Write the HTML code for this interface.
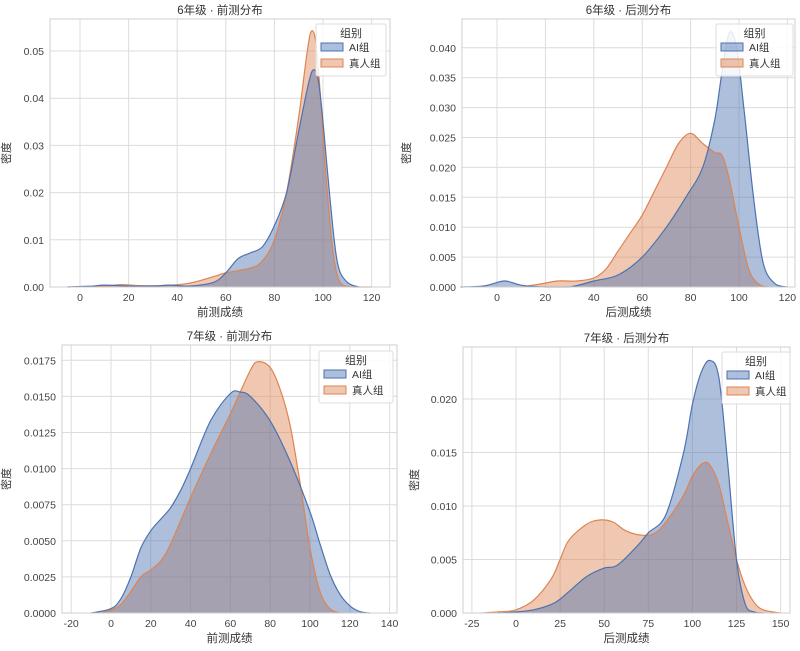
<!DOCTYPE html>
<html><head><meta charset="utf-8">
<style>
html,body{margin:0;padding:0;background:#fff;}
svg{display:block;font-family:"Liberation Sans","Noto Sans CJK SC",sans-serif;}
</style></head>
<body>
<svg id="s" width="800" height="651" xmlns="http://www.w3.org/2000/svg"></svg>
<script>
const S=document.getElementById('s');
let h='';
function sx(p,x){return p.x0+(x-p.xv0)*p.kx;}
function sy(p,y){return p.y0-(y)*p.ky;}
function path(p,pts,close){
  const P=pts.map(a=>[sx(p,a[0]),sy(p,a[1])]);
  let d='M'+P[0][0].toFixed(1)+','+P[0][1].toFixed(1);
  for(let i=0;i<P.length-1;i++){
    const p0=P[Math.max(0,i-1)],p1=P[i],p2=P[i+1],p3=P[Math.min(P.length-1,i+2)];
    const c1=[p1[0]+(p2[0]-p0[0])/6,p1[1]+(p2[1]-p0[1])/6];
    const c2=[p2[0]-(p3[0]-p1[0])/6,p2[1]-(p3[1]-p1[1])/6];
    d+=`C${c1[0].toFixed(1)},${Math.min(c1[1],p.y0).toFixed(1)} ${c2[0].toFixed(1)},${Math.min(c2[1],p.y0).toFixed(1)} ${p2[0].toFixed(1)},${p2[1].toFixed(1)}`;
  }
  if(close) d+=`L${P[P.length-1][0].toFixed(1)},${p.y0}L${P[0][0].toFixed(1)},${p.y0}Z`;
  return d;
}
function panel(p){
  h+=`<rect x="${p.L}" y="${p.T}" width="${p.R-p.L}" height="${p.y0-p.T}" fill="#fff"/>`;
  p.xt.forEach(t=>{const x=sx(p,t);h+=`<line x1="${x}" y1="${p.T}" x2="${x}" y2="${p.y0}" stroke="#dcdcdc" stroke-width="1"/><text x="${x}" y="${p.y0+14}" font-size="10.5" fill="#444" text-anchor="middle">${t}</text>`;});
  p.yt.forEach(t=>{const y=sy(p,t);h+=`<line x1="${p.L}" y1="${y}" x2="${p.R}" y2="${y}" stroke="#dcdcdc" stroke-width="1"/><text x="${p.L-6}" y="${y+4}" font-size="10.5" fill="#444" text-anchor="end">${t.toFixed(p.dec)}</text>`;});
  h+=`<path d="${path(p,p.o,true)}" fill="rgba(221,132,82,0.45)" stroke="none"/>`;
  h+=`<path d="${path(p,p.b,true)}" fill="rgba(76,114,176,0.45)" stroke="none"/>`;
  h+=`<path d="${path(p,p.o,false)}" fill="none" stroke="#dd8452" stroke-width="1.2"/>`;
  h+=`<path d="${path(p,p.b,false)}" fill="none" stroke="#4c72b0" stroke-width="1.2"/>`;
  h+=`<rect x="${p.L}" y="${p.T}" width="${p.R-p.L}" height="${p.y0-p.T}" fill="none" stroke="#cfcfcf" stroke-width="1"/>`;
  h+=`<text x="${(p.L+p.R)/2}" y="${p.T-5}" font-size="11.5" fill="#333" text-anchor="middle">${p.title}</text>`;
  h+=`<text x="${(p.L+p.R)/2}" y="${p.y0+29}" font-size="11.5" fill="#333" text-anchor="middle">${p.xl}</text>`;
  h+=`<text transform="translate(${p.ylx},${(p.T+p.y0)/2}) rotate(-90)" font-size="11" fill="#333" text-anchor="middle">密度</text>`;
  const g=p.lg;
  h+=`<rect x="${g[0]}" y="${g[1]}" width="${g[2]}" height="52" rx="2" fill="rgba(255,255,255,0.85)" stroke="#ddd"/>`;
  h+=`<text x="${g[0]+g[2]/2}" y="${g[1]+13}" font-size="11" fill="#333" text-anchor="middle">组别</text>`;
  h+=`<rect x="${g[0]+5}" y="${g[1]+19}" width="22" height="8" fill="rgba(76,114,176,0.45)" stroke="#4c72b0"/>`;
  h+=`<text x="${g[0]+33}" y="${g[1]+27}" font-size="10.5" fill="#333">AI组</text>`;
  h+=`<rect x="${g[0]+5}" y="${g[1]+35}" width="22" height="8" fill="rgba(221,132,82,0.45)" stroke="#dd8452"/>`;
  h+=`<text x="${g[0]+33}" y="${g[1]+43}" font-size="10.5" fill="#333">真人组</text>`;
}
panel({L:50,R:390,T:19,y0:287,x0:80,xv0:0,kx:2.43,ky:4720,dec:2,
 xt:[0,20,40,60,80,100,120],yt:[0,0.01,0.02,0.03,0.04,0.05],title:"6年级 · 前测分布",xl:"前测成绩",ylx:10,lg:[316,24,70],
 b:[[-5,0],[5,0.0002],[10,0.0004],[20,0.0002],[30,0.0002],[37,0.0004],[45,0.0002],[55,0.001],[60,0.003],[65,0.006],[70,0.0072],[75,0.0085],[80,0.013],[85,0.02],[90,0.033],[94,0.043],[96,0.046],[98,0.044],[100,0.035],[103,0.018],[106,0.005],[110,0.001],[115,0]],
 o:[[-5,0],[10,0.0002],[17,0.0005],[25,0.0003],[35,0.0003],[45,0.0008],[55,0.0022],[60,0.003],[70,0.004],[75,0.0055],[80,0.01],[85,0.02],[90,0.036],[93,0.048],[95,0.054],[97,0.052],[99,0.04],[101,0.025],[104,0.008],[107,0.001],[112,0],[120,0]]});
panel({L:462,R:795,T:19,y0:287,x0:497,xv0:0,kx:2.42,ky:5980,dec:3,
 xt:[0,20,40,60,80,100,120],yt:[0,0.005,0.01,0.015,0.02,0.025,0.03,0.035,0.04],title:"6年级 · 后测分布",xl:"后测成绩",ylx:410,lg:[716,24,77],
 b:[[-15,0],[-5,0.0002],[3,0.001],[10,0.0003],[20,0],[30,0],[40,0.001],[50,0.002],[60,0.005],[70,0.01],[78,0.015],[85,0.02],[90,0.028],[93,0.036],[96,0.0425],[99,0.04],[102,0.03],[106,0.015],[110,0.004],[115,0.0005],[120,0]],
 o:[[10,0],[18,0.0005],[25,0.001],[33,0.001],[40,0.0015],[45,0.003],[50,0.006],[55,0.009],[60,0.012],[65,0.016],[70,0.02],[75,0.024],[80,0.0257],[85,0.024],[90,0.0225],[93,0.022],[96,0.018],[100,0.01],[104,0.003],[108,0.0005],[112,0]]});
panel({L:62,R:397,T:345,y0:613,x0:111,xv0:0,kx:1.99,ky:14440,dec:4,
 xt:[-20,0,20,40,60,80,100,120,140],yt:[0,0.0025,0.005,0.0075,0.01,0.0125,0.015,0.0175],title:"7年级 · 前测分布",xl:"前测成绩",ylx:10,lg:[319,351,74],
 b:[[-10,0],[0,0.0003],[5,0.001],[10,0.0025],[15,0.0045],[20,0.0057],[25,0.0065],[30,0.0073],[35,0.0085],[40,0.01],[50,0.0133],[60,0.0152],[65,0.0153],[70,0.015],[80,0.0133],[90,0.0105],[100,0.007],[105,0.0048],[110,0.0027],[115,0.0013],[120,0.0005],[125,0.0001],[130,0]],
 o:[[-5,0],[0,0.0002],[5,0.0006],[10,0.0015],[15,0.0025],[20,0.003],[25,0.0036],[30,0.0048],[40,0.008],[50,0.011],[60,0.0138],[70,0.0168],[74,0.0174],[80,0.017],[85,0.0155],[90,0.013],[95,0.009],[100,0.0045],[105,0.0015],[110,0.0003],[115,0]]});
panel({L:463,R:790,T:347,y0:613,x0:516,xv0:0,kx:1.764,ky:10700,dec:3,
 xt:[-25,0,25,50,75,100,125,150],yt:[0,0.005,0.01,0.015,0.02],title:"7年级 · 后测分布",xl:"后测成绩",ylx:418,lg:[722,352,68],
 b:[[-10,0],[0,0.0001],[10,0.0003],[20,0.0008],[25,0.0013],[30,0.002],[40,0.0034],[50,0.0042],[55,0.0043],[60,0.0048],[70,0.0065],[75,0.0075],[85,0.0092],[95,0.015],[100,0.0195],[105,0.0225],[110,0.0236],[115,0.022],[120,0.014],[125,0.005],[130,0.0008],[135,0.0001],[140,0]],
 o:[[-20,0],[-10,0.0001],[0,0.0003],[10,0.0012],[20,0.0032],[25,0.005],[30,0.0068],[40,0.0083],[48,0.0087],[55,0.0085],[62,0.0077],[70,0.0073],[78,0.0074],[85,0.0085],[95,0.011],[100,0.0128],[106,0.014],[110,0.0138],[115,0.012],[120,0.0085],[125,0.005],[130,0.0025],[135,0.001],[140,0.0003],[150,0]]});
S.innerHTML=h;
</script>
</body></html>
